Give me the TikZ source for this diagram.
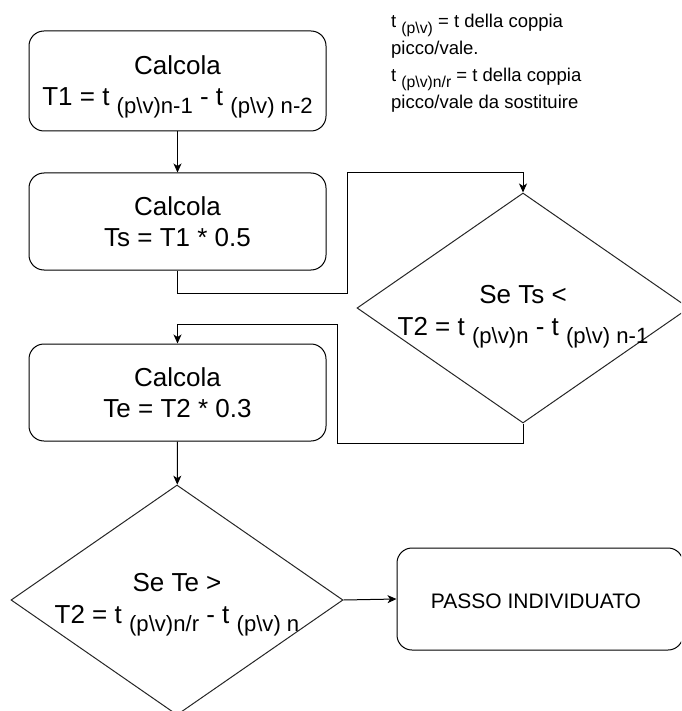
\documentclass[tikz,border=0pt]{standalone}
\usepackage{fontspec}
\setmainfont{Liberation Sans}
\usepackage{graphicx}
\usetikzlibrary{arrows.meta,shapes.geometric}

% lowered, smaller index text
\newcommand\lowsub[1]{\raisebox{-0.3em}{\scalebox{0.85}{#1}}}
\newcommand\pv{(p\textbackslash v)}

\tikzset{
  stepbox/.style={draw=black, line width=1pt, rounded corners=15pt,
    minimum width=297pt, align=center, inner sep=0pt,
    font=\fontsize{26}{31}\selectfont},
  steptext/.style={align=center, inner sep=0pt,
    font=\fontsize{26}{31}\selectfont},
  testshape/.style={draw=black!85, line width=1pt, diamond, inner sep=0pt,
    minimum width=332pt, minimum height=230pt},
  testtext/.style={align=center, font=\fontsize{26}{32}\selectfont},
  link/.style={line width=1pt, -{Stealth[length=9pt,width=8pt,inset=2.5pt]}},
  notetext/.style={align=left, anchor=north west, inner sep=0pt,
    font=\fontsize{18.5}{27}\selectfont}
}

\begin{document}
\begin{tikzpicture}[x=1pt,y=1pt]
  \useasboundingbox (0,0) rectangle (681,-711);
  \clip (0,0) rectangle (681,-711);

  % process steps
  \node[stepbox, minimum height=100pt] (b1) at (177.5,-81) {};
  \node[steptext] (b1t) at ([yshift=-6pt]b1.center)
    {Calcola\\T1 = t \lowsub{\pv n-1} - t \lowsub{\pv{} n-2}};
  \node[stepbox, minimum height=97pt] (b2) at (177.5,-221.5)
    {Calcola\\Ts = T1 * 0.5};
  \node[stepbox, minimum height=97pt] (b3) at (177.5,-392.5)
    {Calcola\\Te = T2 * 0.3};
  \node[stepbox, minimum width=286pt, minimum height=102pt,
        font=\fontsize{21}{25}\selectfont] (b4) at (540,-599) {};
  \node[steptext, font=\fontsize{21}{25}\selectfont] (b4t)
    at ([xshift=-4pt,yshift=-2pt]b4.center) {PASSO INDIVIDUATO};

  % decisions
  \node[testshape] (d1) at (523,-308) {};
  \node[testtext] (t1) at ([yshift=-9pt]d1.center)
    {Se Ts <\\T2 = t \lowsub{\pv n} - t \lowsub{\pv{} n-1}};
  \node[testshape] (d2) at (177,-600) {};
  \node[testtext] (t2) at ([yshift=-5pt]d2.center)
    {Se Te >\\T2 = t \lowsub{\pv n/r} - t \lowsub{\pv{} n}};

  % legend
  \node[notetext] (note) at (391,-14)
    {t \lowsub{\pv} = t della coppia\\
     picco/vale.\\
     t \lowsub{\pv n/r} = t della coppia\\
     picco/vale da sostituire};

  % bends of the routed connectors
  \coordinate (w1) at (347,-293);
  \coordinate (w2) at (347,-173);
  \coordinate (w3) at (337,-443);
  \coordinate (w4) at (337,-324);

  % connectors
  \draw[link] (b1) -- (b2);
  \draw[link] (b2.south) |- (w1) -- (w2) -| (d1.north);
  \draw[link] (d1.south) |- (w3) -- (w4) -| (b3.north);
  \draw[link] (b3) -- (d2);
  \draw[link] (d2.east) -- (b4.west);
\end{tikzpicture}
\end{document}
